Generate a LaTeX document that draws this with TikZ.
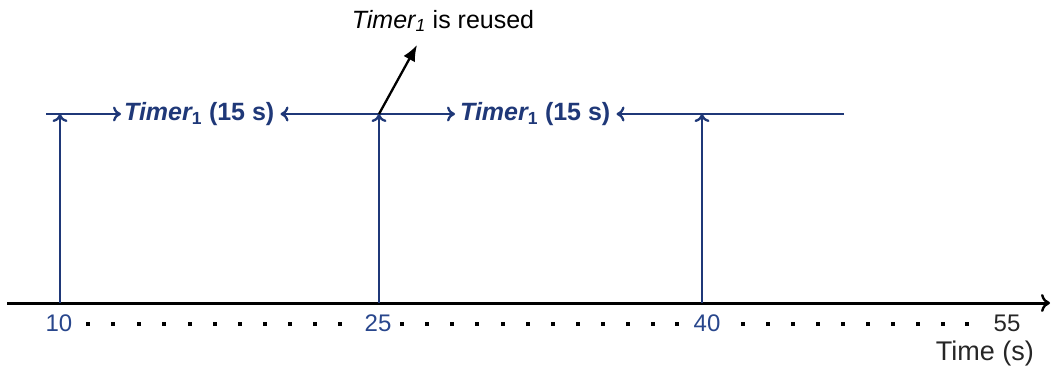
\documentclass[tikz,border=0pt]{standalone}
\usepackage{fontspec}
\setmainfont{Liberation Sans}
\usetikzlibrary{arrows.meta}
\definecolor{tblue}{RGB}{31,56,120}
\definecolor{tickblue}{RGB}{40,70,140}
\begin{document}
\begin{tikzpicture}[x=1pt,y=-1pt,
  bline/.style={draw=tblue,line width=2.7pt},
  btip/.tip={To[length=8pt,width=15pt,line width=2.3pt]},
  barrow/.style={bline,-btip},
  lbl/.style={text=tblue,font=\fontsize{25}{28}\selectfont\bfseries,inner sep=0pt},
  tick/.style={text=tickblue,font=\fontsize{24}{28}\selectfont,inner sep=0pt},
  dot/.style={fill=black,draw=none,minimum size=3.8pt,inner sep=0pt,rectangle}]
\useasboundingbox (0,0) rectangle (1052,369);
% axis
\coordinate (ax0) at (7,303);
\coordinate (ax1) at (1050,303);
\draw[line width=3pt,-{To[length=9pt,width=18pt,line width=2.4pt]}] (ax0) -- (ax1);
% feet of the vertical arrows
\coordinate (f10) at (60,303);
\coordinate (f25) at (379,303);
\coordinate (f40) at (702,303);
\coordinate (h10) at (60,114);
\coordinate (h25) at (379,114);
\coordinate (h40) at (702,114);
\draw[barrow] (f10) -- (h10);
\draw[barrow] (f25) -- (h25);
\draw[barrow] (f40) -- (h40);
% timer labels
\node[lbl,anchor=west] (t1) at (124,114) {\itshape Timer\textsubscript{\upshape 1} \upshape(15 s)};
\node[lbl,anchor=west] (t2) at (460,114) {\itshape Timer\textsubscript{\upshape 1} \upshape(15 s)};
\coordinate (s1) at (46,114);
\coordinate (e2) at (844,114);
\draw[barrow,shorten >=3pt] (s1) -- (t1.west);
\draw[bline,btip-btip,shorten <=6pt,shorten >=5pt] (t1.east) -- (t2.west);
\draw[barrow,shorten >=6pt] (e2) -- (t2.east);
% reuse note
\node[font=\fontsize{25}{28}\selectfont,inner sep=0pt] (note) at (443,21) {\itshape Timer\textsubscript{1} \upshape is reused};
\coordinate (rtip) at (417,45);
\draw[line width=2.3pt,-{Latex[length=16pt,width=13pt]}] (h25) -- (rtip);
% tick labels
\node[tick] (n10) at (59,323) {10};
\node[tick] (n25) at (378,323) {25};
\node[tick] (n40) at (707,323) {40};
\node[tick,text=black!85] (n55) at (1007,323) {55};
\node[font=\fontsize{27}{30}\selectfont,text=black!85,inner sep=0pt,anchor=east] (tl) at (1034,354) {Time (s)};
% dots
\foreach \x in {88,113,139,164,190,215,240,265,290,315,340,
                402,427,452,477,503,528,553,578,603,628,653,677,
                743,768,793,818,843,868,893,918,943,967}
  \node[dot] at (\x,324) {};
\end{tikzpicture}
\end{document}
